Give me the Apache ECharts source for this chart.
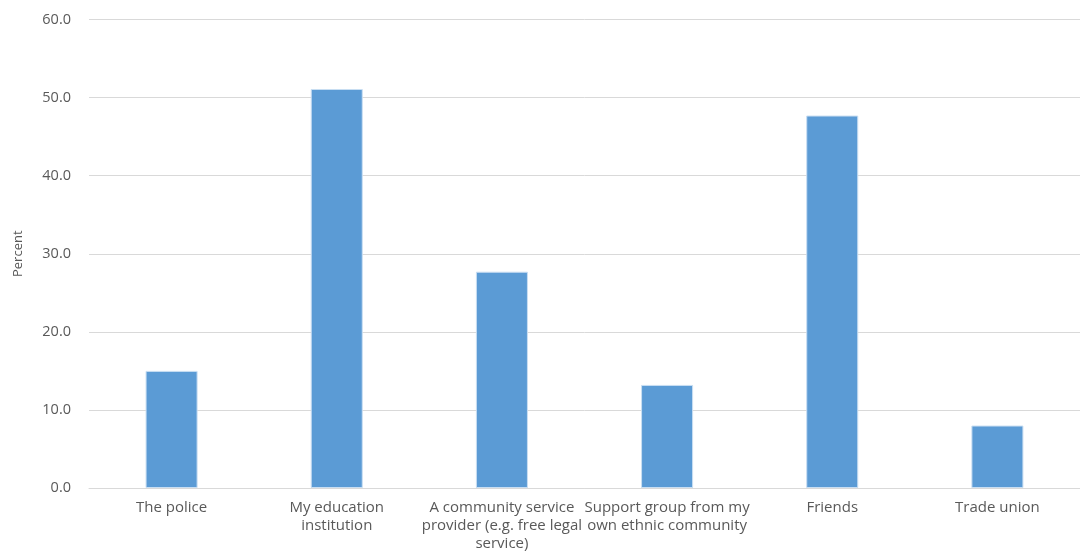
<!DOCTYPE html>
<html>
<head>
<meta charset="utf-8">
<script src="https://cdn.jsdelivr.net/npm/echarts@6/dist/echarts.min.js"></script>
<style>
html,body{margin:0;padding:0;background:#fff;overflow:hidden;}
#chart{width:1080px;height:553px;}
</style>
</head>
<body>
<div id="chart"></div>
<script>
const categories = [
  "The police",
  "My education\ninstitution",
  "A community service\nprovider (e.g. free legal\nservice)",
  "Support group from my\nown ethnic community",
  "Friends",
  "Trade union"
];
const values = [15.0, 51.1, 27.7, 13.2, 47.7, 8.0];
const yTicks = { min: 0, max: 60, interval: 10 };
const yAxisName = "Percent";

const chart = echarts.init(document.getElementById('chart'), null, {renderer: 'canvas', width: 1080, height: 553});
chart.setOption({
  animation: false,
  backgroundColor: '#ffffff',
  grid: { left: 89, top: 19.5, width: 1000, height: 470, containLabel: false },
  xAxis: {
    type: 'category',
    data: categories,
    axisLine: { lineStyle: { color: '#d9d9d9', width: 1 } },
    axisTick: { show: false },
    axisLabel: {
      interval: 0,
      margin: 11,
      color: '#595959',
      fontFamily: 'Open Sans',
      fontSize: 15,
      lineHeight: 18
    }
  },
  yAxis: {
    type: 'value',
    min: yTicks.min,
    max: yTicks.max,
    interval: yTicks.interval,
    name: yAxisName,
    nameLocation: 'middle',
    nameGap: 64,
    nameTextStyle: { color: '#595959', fontFamily: 'Open Sans', fontSize: 13 },
    axisLine: { show: false },
    axisTick: { show: false },
    splitLine: { lineStyle: { color: '#d9d9d9', width: 1 } },
    axisLabel: {
      margin: 18,
      color: '#595959',
      fontFamily: 'Open Sans',
      fontSize: 14.5,
      formatter: v => v.toFixed(1)
    }
  },
  series: [{
    type: 'bar',
    data: values,
    barWidth: '31.5%',
    itemStyle: { color: '#5b9bd5', borderColor: '#c9def2', borderWidth: 1 }
  }]
});
</script>
</body>
</html>
